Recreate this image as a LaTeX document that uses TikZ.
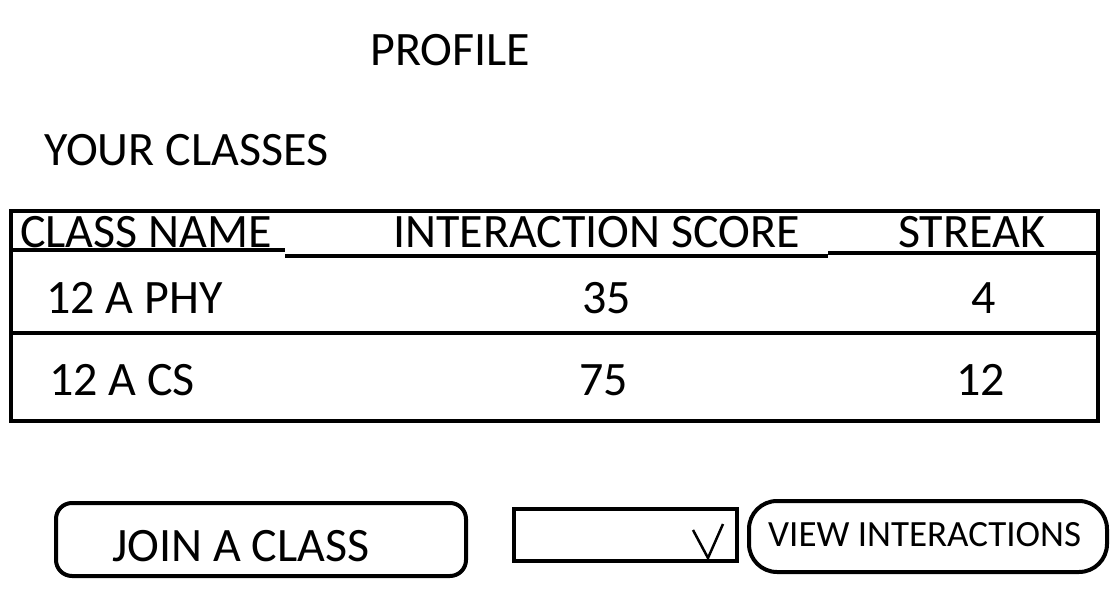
\documentclass[tikz,border=0pt]{standalone}
\usepackage{fontspec}
\setmainfont{Carlito}
\usetikzlibrary{calc}
\tikzset{
	heading/.style={font=\fontsize{48}{52}\selectfont, inner sep=0pt},
	cell/.style={font=\fontsize{48}{52}\selectfont, inner sep=0pt},
	headcell/.style={font=\fontsize{48}{52}\selectfont, inner sep=0pt},
	rule/.style={line width=4pt, color=black},
}

\begin{document}
\begin{tikzpicture}[x=1pt, y=-1pt]
		%%%%% START %%%%%
		\useasboundingbox (0, 0) rectangle (1120, 610);
		
		\node[heading, anchor=west] (profile) at (370, 50) {PROFILE};
		\node[heading, anchor=west] (yourclasses) at (44, 150) {YOUR CLASSES};
		
		% table
		\draw[rule] (11, 211) rectangle (1098, 421);
		\draw[rule] (11, 250) -- (285, 250);
		\draw[rule] (285, 256) -- (828, 256);
		\draw[rule] (828, 253) -- (1098, 253);
		\draw[rule] (11, 333) -- (1098, 333);
		
		\node[headcell, anchor=west] (hname) at (20, 232) {CLASS NAME};
		\node[headcell, anchor=west] (hscore) at (393, 232) {INTERACTION SCORE};
		\node[headcell, anchor=west] (hstreak) at (898, 232) {STREAK};
		
		\node[cell, anchor=west] (phyname) at (46, 298) {12 A PHY};
		\node[cell, anchor=west] (physcore) at (582, 298) {35};
		\node[cell, anchor=west] (phystreak) at (971, 298) {4};
		
		\node[cell, anchor=west] (csname) at (49, 380) {12 A CS};
		\node[cell, anchor=west] (csscore) at (579, 380) {75};
		\node[cell, anchor=west] (csstreak) at (956, 380) {12};
		
		% buttons
		\draw[rule, rounded corners=16pt] (56, 503) rectangle (466, 576);
		\node[cell, anchor=west] (join) at (112, 546) {JOIN A CLASS};
		
		\draw[rule] (514, 509) rectangle (737, 561);
		\draw[line width=2.5pt] (693, 530) -- (708, 558) -- (723, 524);
		\node[inner sep=0pt] (drop) at (625, 535) {};
		
		\draw[rule, rounded corners=28pt] (749, 501) rectangle (1107, 572);
		\node[cell, font=\fontsize{37}{40}\selectfont, anchor=west] (view) at (768, 535) {VIEW INTERACTIONS};
		
		%%%%% END %%%%%
\end{tikzpicture}
\end{document}
